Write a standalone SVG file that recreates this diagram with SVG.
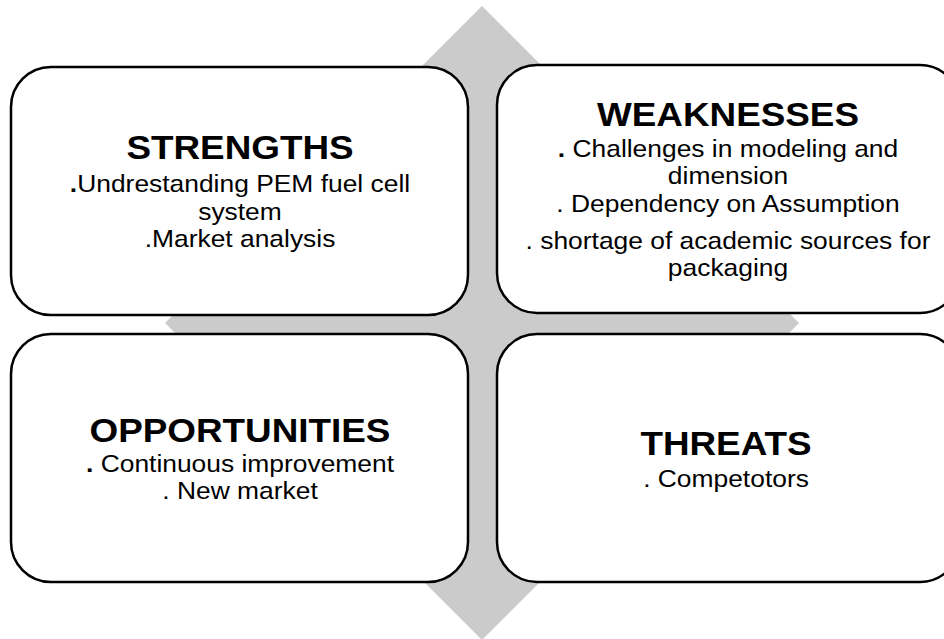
<svg xmlns="http://www.w3.org/2000/svg" width="944" height="639" viewBox="0 0 944 639">
<style>
.box{fill:#fff;stroke:#000;stroke-width:2.5}
.t{font-family:"Liberation Sans",Arial,sans-serif;font-weight:bold;font-size:33.5px;fill:#000;text-anchor:middle}
.b{font-family:"Liberation Sans",Arial,sans-serif;font-size:24px;fill:#000;text-anchor:middle}
.d{font-weight:bold}
</style>
<rect width="944" height="639" fill="#fff"/>
<polygon id="diamond" points="482,6 799,323 482,640 165,323" fill="#cbcbcb"/>
<g id="strengths">
<rect class="box" x="11" y="67" width="457" height="248" rx="40" ry="40"/>
<text class="t" transform="translate(240 159) scale(1.1 1)">STRENGTHS</text>
<text class="b" transform="translate(240 192) scale(1.1 1)"><tspan class="d">.</tspan>Undrestanding PEM fuel cell</text>
<text class="b" transform="translate(240 220) scale(1.1 1)">system</text>
<text class="b" transform="translate(240 247) scale(1.1 1)">.Market analysis</text>
</g>
<g id="weaknesses">
<rect class="box" x="497" y="65" width="463" height="248" rx="40" ry="40"/>
<text class="t" transform="translate(728 126) scale(1.1 1)">WEAKNESSES</text>
<text class="b" transform="translate(728 157) scale(1.1 1)"><tspan class="d">.</tspan> Challenges in modeling and</text>
<text class="b" transform="translate(728 184) scale(1.1 1)">dimension</text>
<text class="b" transform="translate(728 212) scale(1.1 1)">. Dependency on Assumption</text>
<text class="b" transform="translate(728 249) scale(1.1 1)">. shortage of academic sources for</text>
<text class="b" transform="translate(728 276) scale(1.1 1)">packaging</text>
</g>
<g id="opportunities">
<rect class="box" x="11" y="334" width="457" height="248" rx="40" ry="40"/>
<text class="t" transform="translate(240 442) scale(1.1 1)">OPPORTUNITIES</text>
<text class="b" transform="translate(240 472) scale(1.1 1)"><tspan class="d">.</tspan> Continuous improvement</text>
<text class="b" transform="translate(240 499) scale(1.1 1)">. New market</text>
</g>
<g id="threats">
<rect class="box" x="497" y="334" width="463" height="248" rx="40" ry="40"/>
<text class="t" transform="translate(726 455) scale(1.1 1)">THREATS</text>
<text class="b" transform="translate(726 487) scale(1.1 1)">. Competotors</text>
</g>
<g id="connectors"/>
</svg>
